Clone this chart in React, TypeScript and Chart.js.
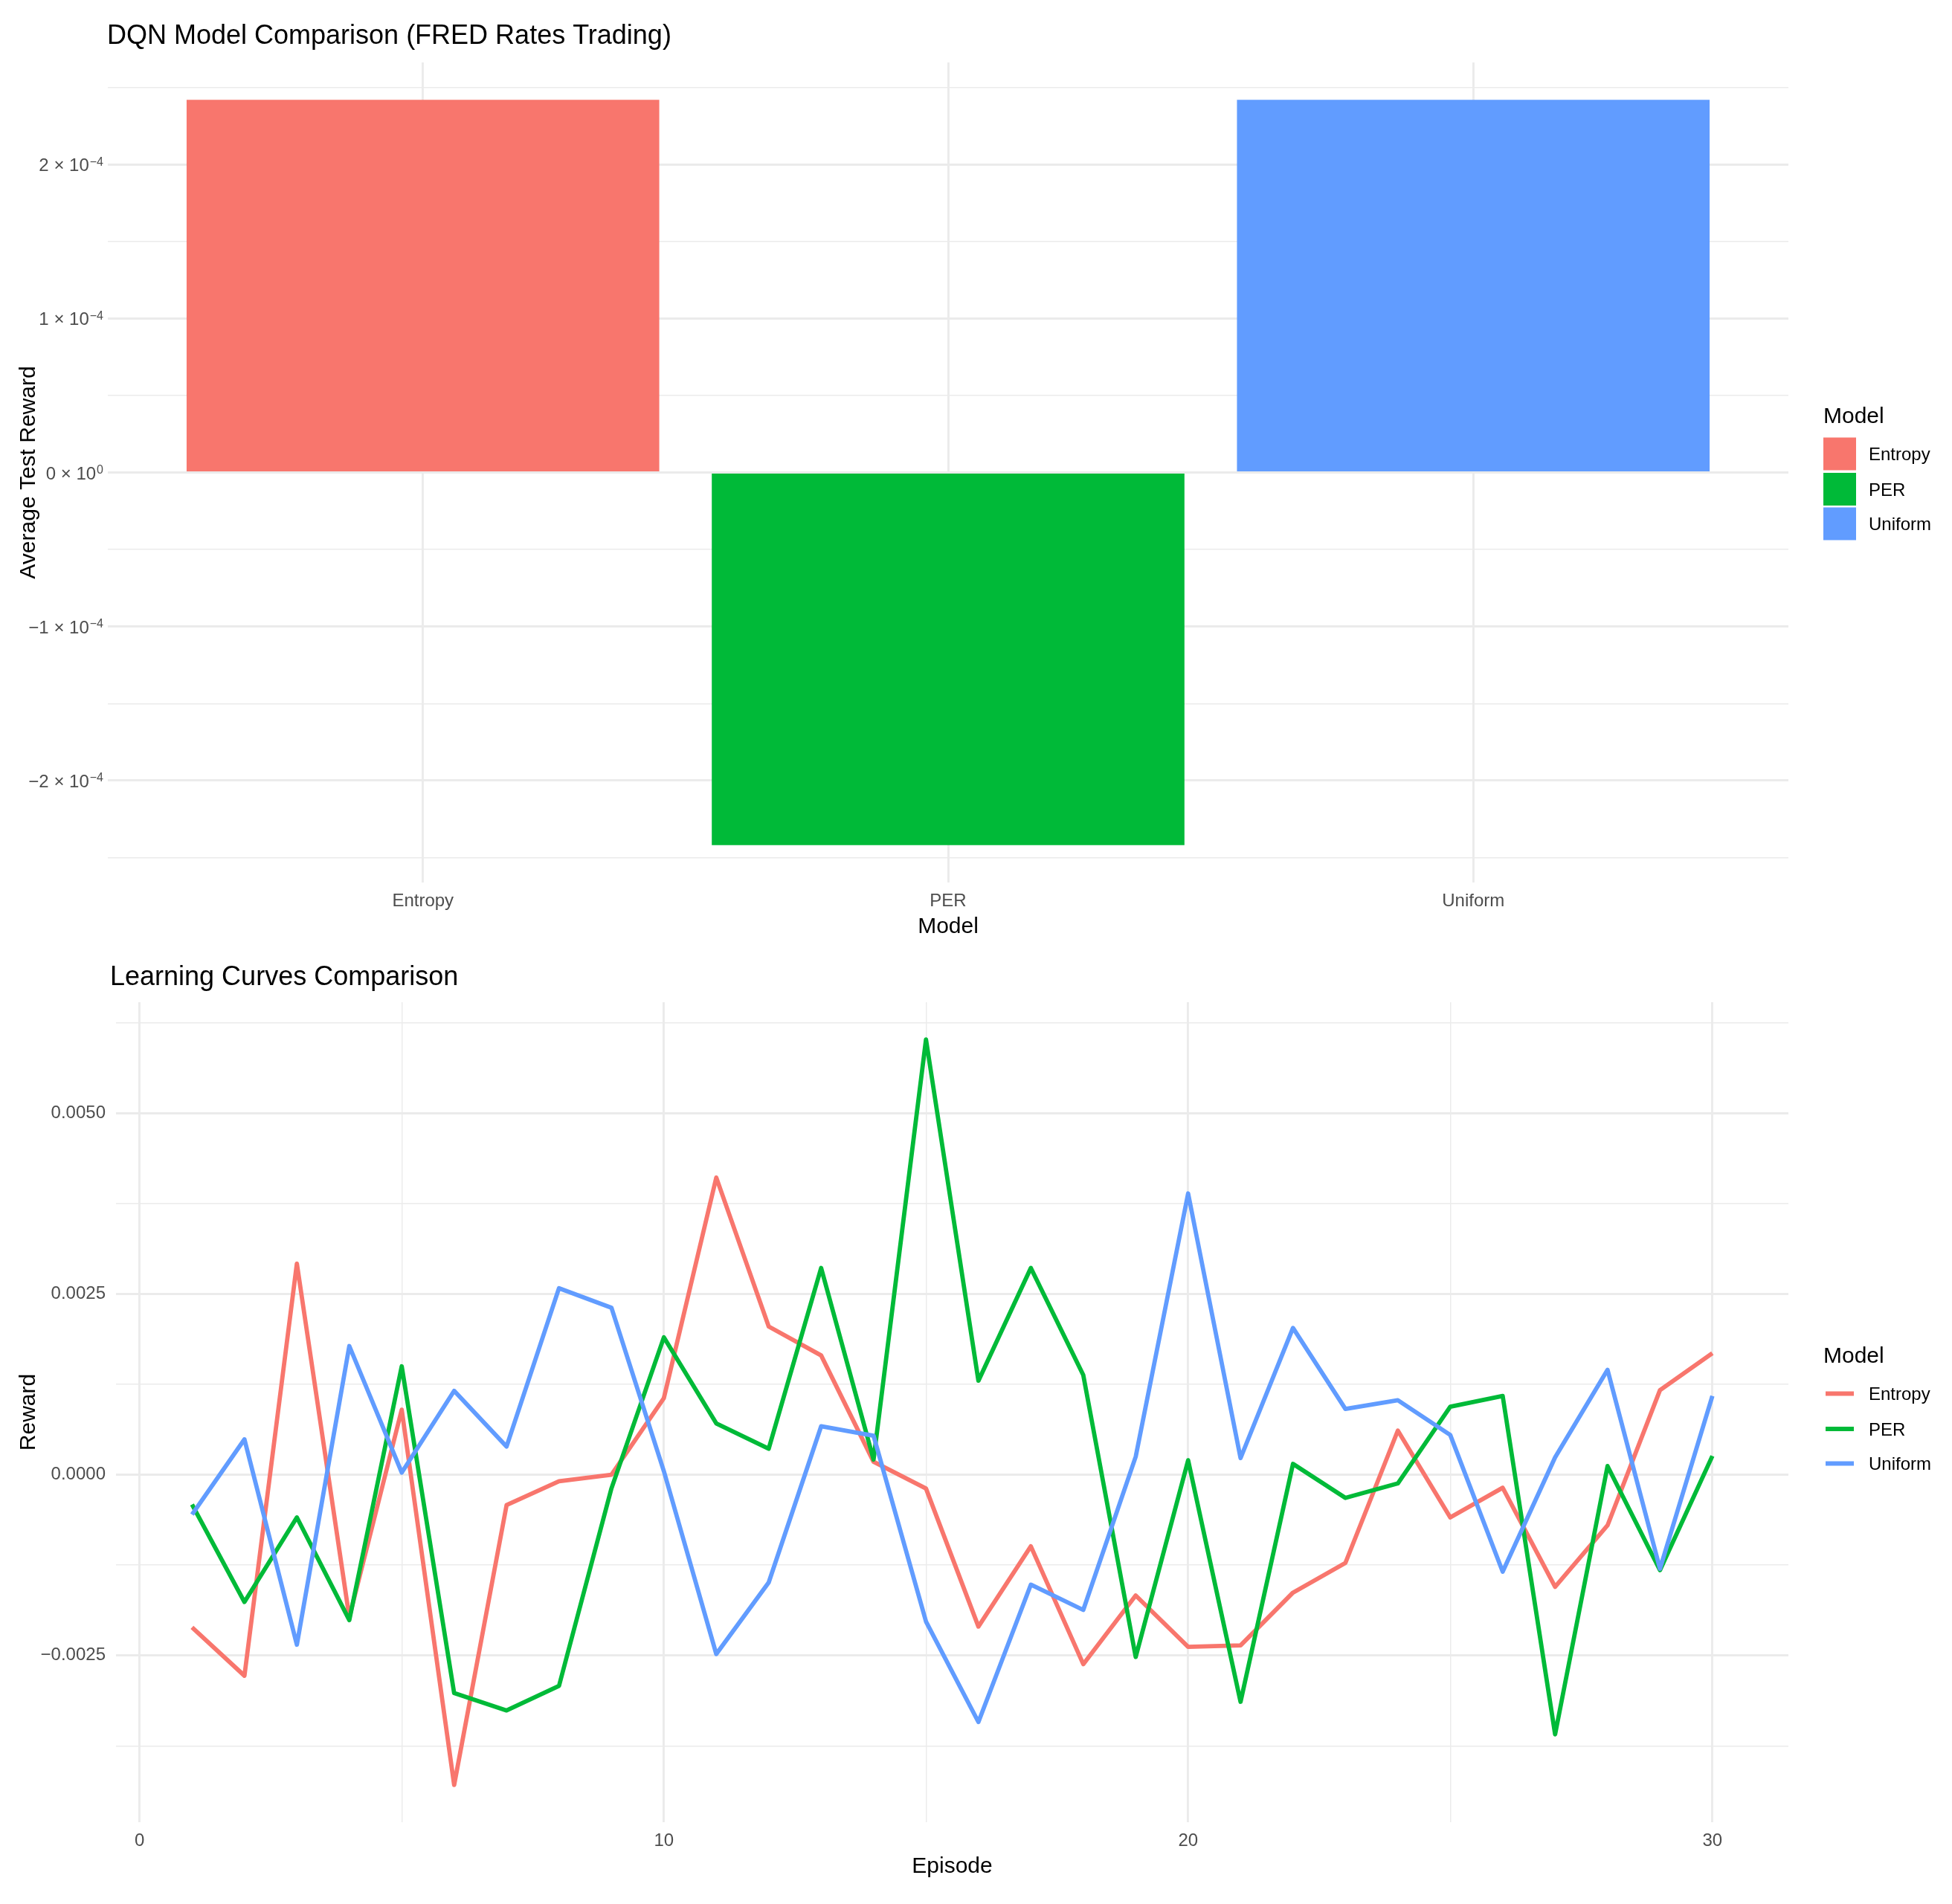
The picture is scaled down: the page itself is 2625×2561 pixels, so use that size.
import React, { useEffect, useRef } from 'react'
import { Chart, registerables } from 'chart.js'

Chart.register(...registerables)

// ---- data ----
const models = ['Entropy', 'PER', 'Uniform']
const modelColors = ['#F8766D', '#00BA38', '#619CFF']
const avgTestReward = [2.42e-4, -2.42e-4, 2.42e-4]

const barYTicks = [-2e-4, -1e-4, 0, 1e-4, 2e-4]
const barYMinorTicks = [-2.5e-4, -1.5e-4, -0.5e-4, 0.5e-4, 1.5e-4, 2.5e-4]
const barYMantissas = ['−2', '−1', '0', '1', '2']
const barYExponents = ['−4', '−4', '0', '−4', '−4']

const episodes = [
  1, 2, 3, 4, 5, 6, 7, 8, 9, 10, 11, 12, 13, 14, 15, 16, 17, 18, 19, 20, 21, 22, 23, 24, 25, 26, 27, 28,
  29, 30,
]
const entropyRewards = [
  -0.00211, -0.00278, 0.00292, -0.00197, 0.0009, -0.00429, -0.00042, -0.00009, 0.0, 0.00106, 0.00411,
  0.00205, 0.00165, 0.00018, -0.00019, -0.0021, -0.00099, -0.00262, -0.00167, -0.00238, -0.00236,
  -0.00163, -0.00122, 0.00061, -0.00059, -0.00018, -0.00155, -0.0007, 0.00117, 0.00168,
]
const perRewards = [
  -0.00041, -0.00176, -0.00059, -0.00201, 0.0015, -0.00302, -0.00326, -0.00292, -0.00019, 0.0019,
  0.00071, 0.00036, 0.00286, 0.00021, 0.00602, 0.0013, 0.00286, 0.00138, -0.00252, 0.0002, -0.00314,
  0.00015, -0.00032, -0.00012, 0.00094, 0.00109, -0.00359, 0.00012, -0.00132, 0.00026,
]
const uniformRewards = [
  -0.00055, 0.00049, -0.00235, 0.00178, 0.00003, 0.00116, 0.00039, 0.00258, 0.00231, 0.00005, -0.00248,
  -0.00149, 0.00067, 0.00054, -0.00203, -0.00342, -0.00152, -0.00187, 0.00025, 0.00389, 0.00023,
  0.00203, 0.00091, 0.00103, 0.00055, -0.00134, 0.00024, 0.00145, -0.0013, 0.00109,
]

const lineXTicks = [0, 10, 20, 30]
const lineXMinorTicks = [5, 15, 25]
const lineYTicks = [-0.0025, 0, 0.0025, 0.005]
const lineYMinorTicks = [-0.00375, -0.00125, 0.00125, 0.00375, 0.00625]
const lineYLabels = ['−0.0025', '0.0000', '0.0025', '0.0050']

// ---- styling ----
const FONT = '"Liberation Sans", Arial, sans-serif'
const GRID = '#EBEBEB'
const AXIS_TEXT = '#4D4D4D'
const WIDTH = 2625

// ggplot style 5% expansion of the data range
const expand = (lo: number, hi: number, mult = 0.05) => {
  const pad = (hi - lo) * mult
  return [lo - pad, hi + pad]
}

const gridTicks = (major: number[], minor: number[]) => (scale: any) => {
  scale.ticks = [
    ...major.map((v) => ({ value: v, major: true })),
    ...minor.map((v) => ({ value: v, major: false })),
  ].sort((a, b) => a.value - b.value)
}

const gridOpts = {
  color: GRID,
  lineWidth: (ctx: any) => (ctx.tick && ctx.tick.major ? 2.9 : 1.45),
  drawTicks: false,
  offset: false,
}

const tickFont = { family: FONT, size: 24 }

const drawText = (
  ctx: CanvasRenderingContext2D,
  text: string,
  x: number,
  y: number,
  size: number,
  color: string,
  align: CanvasTextAlign = 'left'
) => {
  ctx.font = `${size}px ${FONT}`
  ctx.fillStyle = color
  ctx.textAlign = align
  ctx.textBaseline = 'alphabetic'
  ctx.fillText(text, x, y)
}

const drawYTitle = (ctx: CanvasRenderingContext2D, text: string, x: number, midY: number) => {
  ctx.save()
  ctx.translate(x, midY)
  ctx.rotate(-Math.PI / 2)
  drawText(ctx, text, 0, 0, 30, '#000', 'center')
  ctx.restore()
}

const drawLegend = (chart: any, kind: 'box' | 'line') => {
  const { ctx, chartArea } = chart
  const x = chartArea.right + 47
  const mid = (chartArea.top + chartArea.bottom) / 2
  const offsets = [-25, 22.5, 69]
  drawText(ctx, 'Model', x, mid - 67, 30, '#000')
  models.forEach((m, i) => {
    const cy = mid + offsets[i]
    if (kind === 'box') {
      ctx.fillStyle = modelColors[i]
      ctx.fillRect(x, cy - 22, 44, 44)
    } else {
      ctx.strokeStyle = modelColors[i]
      ctx.lineWidth = 5.8
      ctx.lineCap = 'butt'
      ctx.beginPath()
      ctx.moveTo(x + 3, cy)
      ctx.lineTo(x + 41, cy)
      ctx.stroke()
    }
    drawText(ctx, m, x + 61, cy + 8.6, 24, '#000')
  })
}

const barText = {
  id: 'barText',
  afterDraw(chart: any) {
    const { ctx, chartArea, scales } = chart
    ctx.save()
    drawText(ctx, 'DQN Model Comparison (FRED Rates Trading)', 144, 59, 36, '#000')
    // y tick labels written as m × 10^e
    barYTicks.forEach((v, i) => {
      const y = scales.y.getPixelForValue(v)
      const right = chartArea.left - 6
      ctx.font = `16px ${FONT}`
      const expW = ctx.measureText(barYExponents[i]).width
      drawText(ctx, barYExponents[i], right, y + 1.6, 16, AXIS_TEXT, 'right')
      drawText(ctx, `${barYMantissas[i]} × 10`, right - expW - 1, y + 9, 24, AXIS_TEXT, 'right')
    })
    drawText(ctx, 'Model', (chartArea.left + chartArea.right) / 2, 1255, 30, '#000', 'center')
    drawYTitle(ctx, 'Average Test Reward', 47, (chartArea.top + chartArea.bottom) / 2)
    drawLegend(chart, 'box')
    ctx.restore()
  },
}

const lineText = {
  id: 'lineText',
  afterDraw(chart: any) {
    const { ctx, chartArea } = chart
    ctx.save()
    drawText(ctx, 'Learning Curves Comparison', 148, 50, 36, '#000')
    drawText(ctx, 'Episode', (chartArea.left + chartArea.right) / 2, 1244, 30, '#000', 'center')
    drawYTitle(ctx, 'Reward', 47, (chartArea.top + chartArea.bottom) / 2)
    drawLegend(chart, 'line')
    ctx.restore()
  },
}

const BarPanel = () => {
  const ref = useRef<HTMLCanvasElement>(null)

  useEffect(() => {
    const positions = models.map((_, i) => i + 1)
    const [yMin, yMax] = expand(Math.min(0, ...avgTestReward), Math.max(0, ...avgTestReward))

    const chart = new Chart(ref.current as HTMLCanvasElement, {
      type: 'bar',
      data: {
        datasets: [
          {
            data: positions.map((p, i) => ({ x: p, y: avgTestReward[i] })),
            backgroundColor: modelColors,
            borderWidth: 0,
            barPercentage: 0.9,
            categoryPercentage: 1,
          },
        ],
      },
      options: {
        responsive: false,
        animation: false,
        layout: { padding: { top: 84, right: 220, bottom: 0, left: 0 } },
        plugins: { legend: { display: false }, tooltip: { enabled: false } },
        scales: {
          x: {
            type: 'linear',
            min: positions[0] - 0.6,
            max: positions[positions.length - 1] + 0.6,
            offset: false,
            grid: gridOpts,
            border: { display: false },
            afterBuildTicks: (s: any) => {
              s.ticks = positions.map((v) => ({ value: v, major: true }))
            },
            afterFit: (s: any) => {
              s.height = 88
            },
            ticks: {
              callback: (v: any) => models[Math.round(Number(v)) - 1] ?? '',
              font: tickFont,
              color: AXIS_TEXT,
              padding: 10.6,
              maxRotation: 0,
              autoSkip: false,
            },
          },
          y: {
            type: 'linear',
            min: yMin,
            max: yMax,
            grid: gridOpts,
            border: { display: false },
            afterBuildTicks: gridTicks(barYTicks, barYMinorTicks),
            afterFit: (s: any) => {
              s.width = 145
            },
            ticks: { display: false },
          },
        },
      } as any,
      plugins: [barText],
    })

    return () => {
      chart.destroy()
    }
  }, [])

  return <canvas ref={ref} width={WIDTH} height={1275} style={{ display: 'block' }} />
}

const LinePanel = () => {
  const ref = useRef<HTMLCanvasElement>(null)

  useEffect(() => {
    const series = [entropyRewards, perRewards, uniformRewards]
    const all = series.flat()
    const [yMin, yMax] = expand(Math.min(...all), Math.max(...all))
    const [xMin, xMax] = expand(Math.min(...episodes), Math.max(...episodes))

    const chart = new Chart(ref.current as HTMLCanvasElement, {
      type: 'line',
      data: {
        datasets: models.map((m, i) => ({
          label: m,
          data: episodes.map((e, j) => ({ x: e, y: series[i][j] })),
          borderColor: modelColors[i],
          borderWidth: 5.8,
          borderJoinStyle: 'round',
          borderCapStyle: 'butt',
          pointRadius: 0,
          tension: 0,
          fill: false,
          order: models.length - 1 - i, // Uniform drawn last, like ggplot
        })),
      },
      options: {
        responsive: false,
        animation: false,
        layout: { padding: { top: 73, right: 220, bottom: 0, left: 0 } },
        plugins: { legend: { display: false }, tooltip: { enabled: false } },
        scales: {
          x: {
            type: 'linear',
            min: xMin,
            max: xMax,
            grid: gridOpts,
            border: { display: false },
            afterBuildTicks: gridTicks(lineXTicks, lineXMinorTicks),
            afterFit: (s: any) => {
              s.height = 110
            },
            ticks: {
              callback: (v: any) => (lineXTicks.includes(Number(v)) ? String(v) : ''),
              font: tickFont,
              color: AXIS_TEXT,
              padding: 10.6,
              maxRotation: 0,
              autoSkip: false,
            },
          },
          y: {
            type: 'linear',
            min: yMin,
            max: yMax,
            grid: gridOpts,
            border: { display: false },
            afterBuildTicks: gridTicks(lineYTicks, lineYMinorTicks),
            afterFit: (s: any) => {
              s.width = 156
            },
            ticks: {
              callback: (v: any) => {
                const k = lineYTicks.findIndex((t) => Math.abs(t - Number(v)) < 1e-12)
                return k >= 0 ? lineYLabels[k] : ''
              },
              font: tickFont,
              color: AXIS_TEXT,
              padding: 14,
              autoSkip: false,
            },
          },
        },
      } as any,
      plugins: [lineText],
    })

    return () => {
      chart.destroy()
    }
  }, [])

  return <canvas ref={ref} width={WIDTH} height={1286} style={{ display: 'block' }} />
}

export default function App() {
  return (
    <div style={{ position: 'absolute', left: 0, top: 0, width: WIDTH, background: '#fff' }}>
      <BarPanel />
      <LinePanel />
    </div>
  )
}
